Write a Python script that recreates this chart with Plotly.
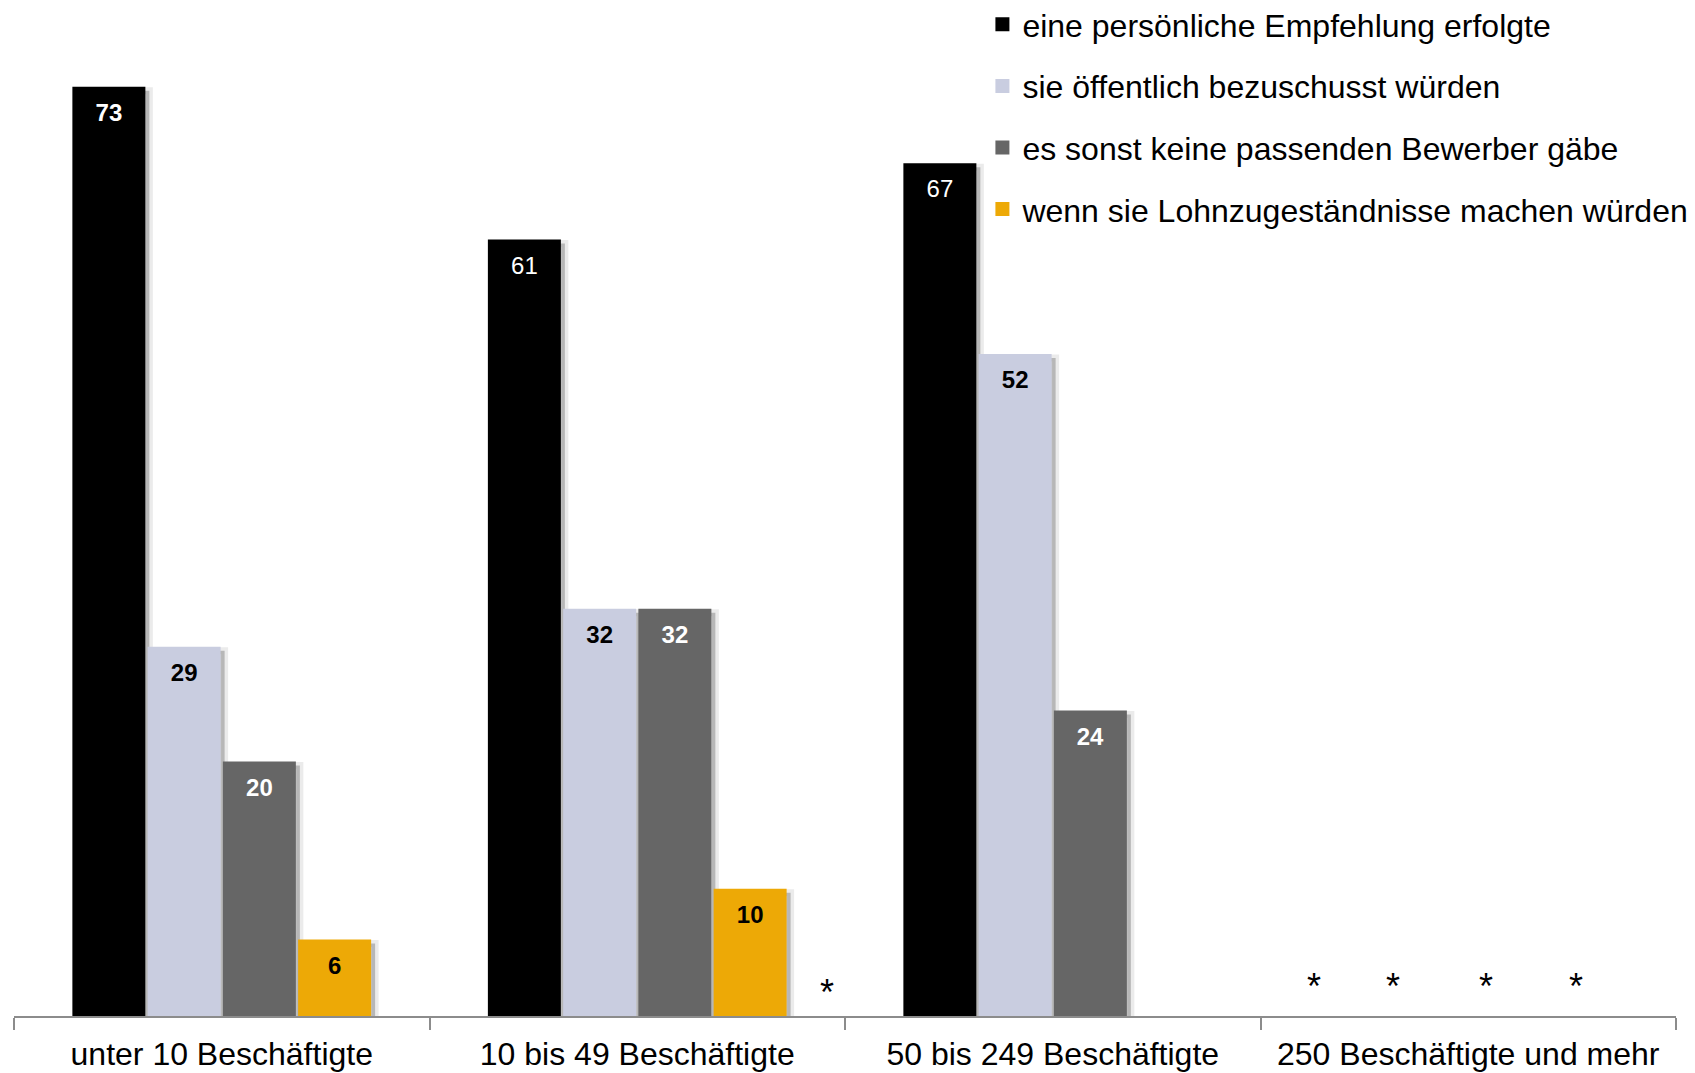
import plotly.graph_objects as go

categories = ["unter 10 Beschäftigte", "10 bis 49 Beschäftigte",
              "50 bis 249 Beschäftigte", "250 Beschäftigte und mehr"]

series_names = ["eine persönliche Empfehlung erfolgte",
                "sie öffentlich bezuschusst würden",
                "es sonst keine passenden Bewerber gäbe",
                "wenn sie Lohnzugeständnisse machen würden"]

empfehlung = [73, 61, 67, None]
bezuschusst = [29, 32, 52, None]
keine_bewerber = [20, 32, 24, None]
lohnzugestaendnisse = [6, 10, None, None]

# which data labels are printed in bold (per series, per category)
bold_empfehlung = [True, False, False, False]
bold_bezuschusst = [True, True, True, True]
bold_keine_bewerber = [True, True, True, True]
bold_lohn = [True, True, True, True]

# asterisks (* = too few cases): position on the category axis
asterisk_x = [1.457, 2.628, 2.818, 3.042, 3.259]
asterisk_y = [1.87, 2.33, 2.33, 2.33, 2.33]

series_values = [empfehlung, bezuschusst, keine_bewerber, lohnzugestaendnisse]
series_bold = [bold_empfehlung, bold_bezuschusst, bold_keine_bewerber, bold_lohn]
colors = ["#000000", "#C9CDE0", "#666666", "#EDA906"]
label_colors = ["#FFFFFF", "#000000", "#FFFFFF", "#000000"]

FONT = "Liberation Sans, Arial, Helvetica, sans-serif"
Y_MAX = 79.03
X_RANGE = [-0.5, 3.5]
# drop shadow offset (pixels) -> axis units
CAT_PX = 415.5
UNIT_PX = 12.726
SH_PX = 4


def label(v, b):
    if v is None:
        return ""
    s = f"<b>{v}</b>" if b else str(v)
    # small blank first line pushes the label a little below the bar top
    return "&nbsp;<br><span style='font-size:24px'>" + s + "</span>"


fig = go.Figure()

# soft drop shadows (drawn on the underlying subplot, slightly offset)
for i, vals in enumerate(series_values):
    fig.add_trace(go.Bar(
        x=categories, y=vals, xaxis="x", yaxis="y",
        marker=dict(color="rgba(0,0,0,0.22)",
                    line=dict(color="rgba(0,0,0,0.08)", width=7)),
        showlegend=False, hoverinfo="skip",
    ))

# actual bars
for i, (name, vals, bolds) in enumerate(zip(series_names, series_values, series_bold)):
    fig.add_trace(go.Bar(
        x=categories, y=vals, name=name, xaxis="x2", yaxis="y2",
        marker=dict(color=colors[i], line=dict(width=0)),
        text=[label(v, b) for v, b in zip(vals, bolds)],
        textposition="inside", insidetextanchor="end",
        textangle=0,
        textfont=dict(family=FONT, size=14, color=label_colors[i]),
        showlegend=False,
    ))

# legend entries (small squares like the original)
for i, name in enumerate(series_names):
    fig.add_trace(go.Scatter(
        x=[None], y=[None], name=name, mode="markers", xaxis="x2", yaxis="y2",
        marker=dict(symbol="square", size=14, color=colors[i], line=dict(width=0)),
        legendgroup=f"g{i}", hoverinfo="skip",
    ))

for xa, ya in zip(asterisk_x, asterisk_y):
    fig.add_annotation(x=xa, y=ya, xref="x2", yref="y2", text="*",
                       showarrow=False, font=dict(family=FONT, size=36, color="#000000"),
                       xanchor="center", yanchor="middle")

dx = SH_PX / CAT_PX
dy = SH_PX / UNIT_PX

fig.update_layout(
    width=1687, height=1065,
    margin=dict(l=6, r=19, t=2, b=57, autoexpand=False),
    paper_bgcolor="white", plot_bgcolor="white",
    barmode="group", bargap=0.2756, bargroupgap=0.03,
    font=dict(family=FONT, size=32, color="#000000"),
    showlegend=True,
    legend=dict(
        xref="container", yref="paper",
        x=0.5776, y=1.0129, xanchor="left", yanchor="top",
        font=dict(family=FONT, size=32, color="#000000"),
        traceorder="grouped", tracegroupgap=17,
        bgcolor="rgba(0,0,0,0)", borderwidth=0,
    ),
    uniformtext=dict(mode=False),
    xaxis=dict(type="category", range=[X_RANGE[0] - dx, X_RANGE[1] - dx],
               visible=False, showgrid=False, zeroline=False),
    yaxis=dict(range=[dy, Y_MAX + dy], visible=False, showgrid=False, zeroline=False),
    xaxis2=dict(
        type="category", overlaying="x", anchor="y2", side="bottom",
        showline=True, linecolor="#8C8C8C", linewidth=2,
        ticks="outside", tickson="boundaries", ticklen=12, tickwidth=2,
        tickcolor="#8C8C8C", showgrid=False, zeroline=False,
        ticklabelstandoff=9,
        tickfont=dict(family=FONT, size=32, color="#000000"),
        range=X_RANGE,
    ),
    yaxis2=dict(overlaying="y", anchor="x2", range=[0, Y_MAX], visible=False,
                showgrid=False, zeroline=False),
)

fig.write_html("out.html")
